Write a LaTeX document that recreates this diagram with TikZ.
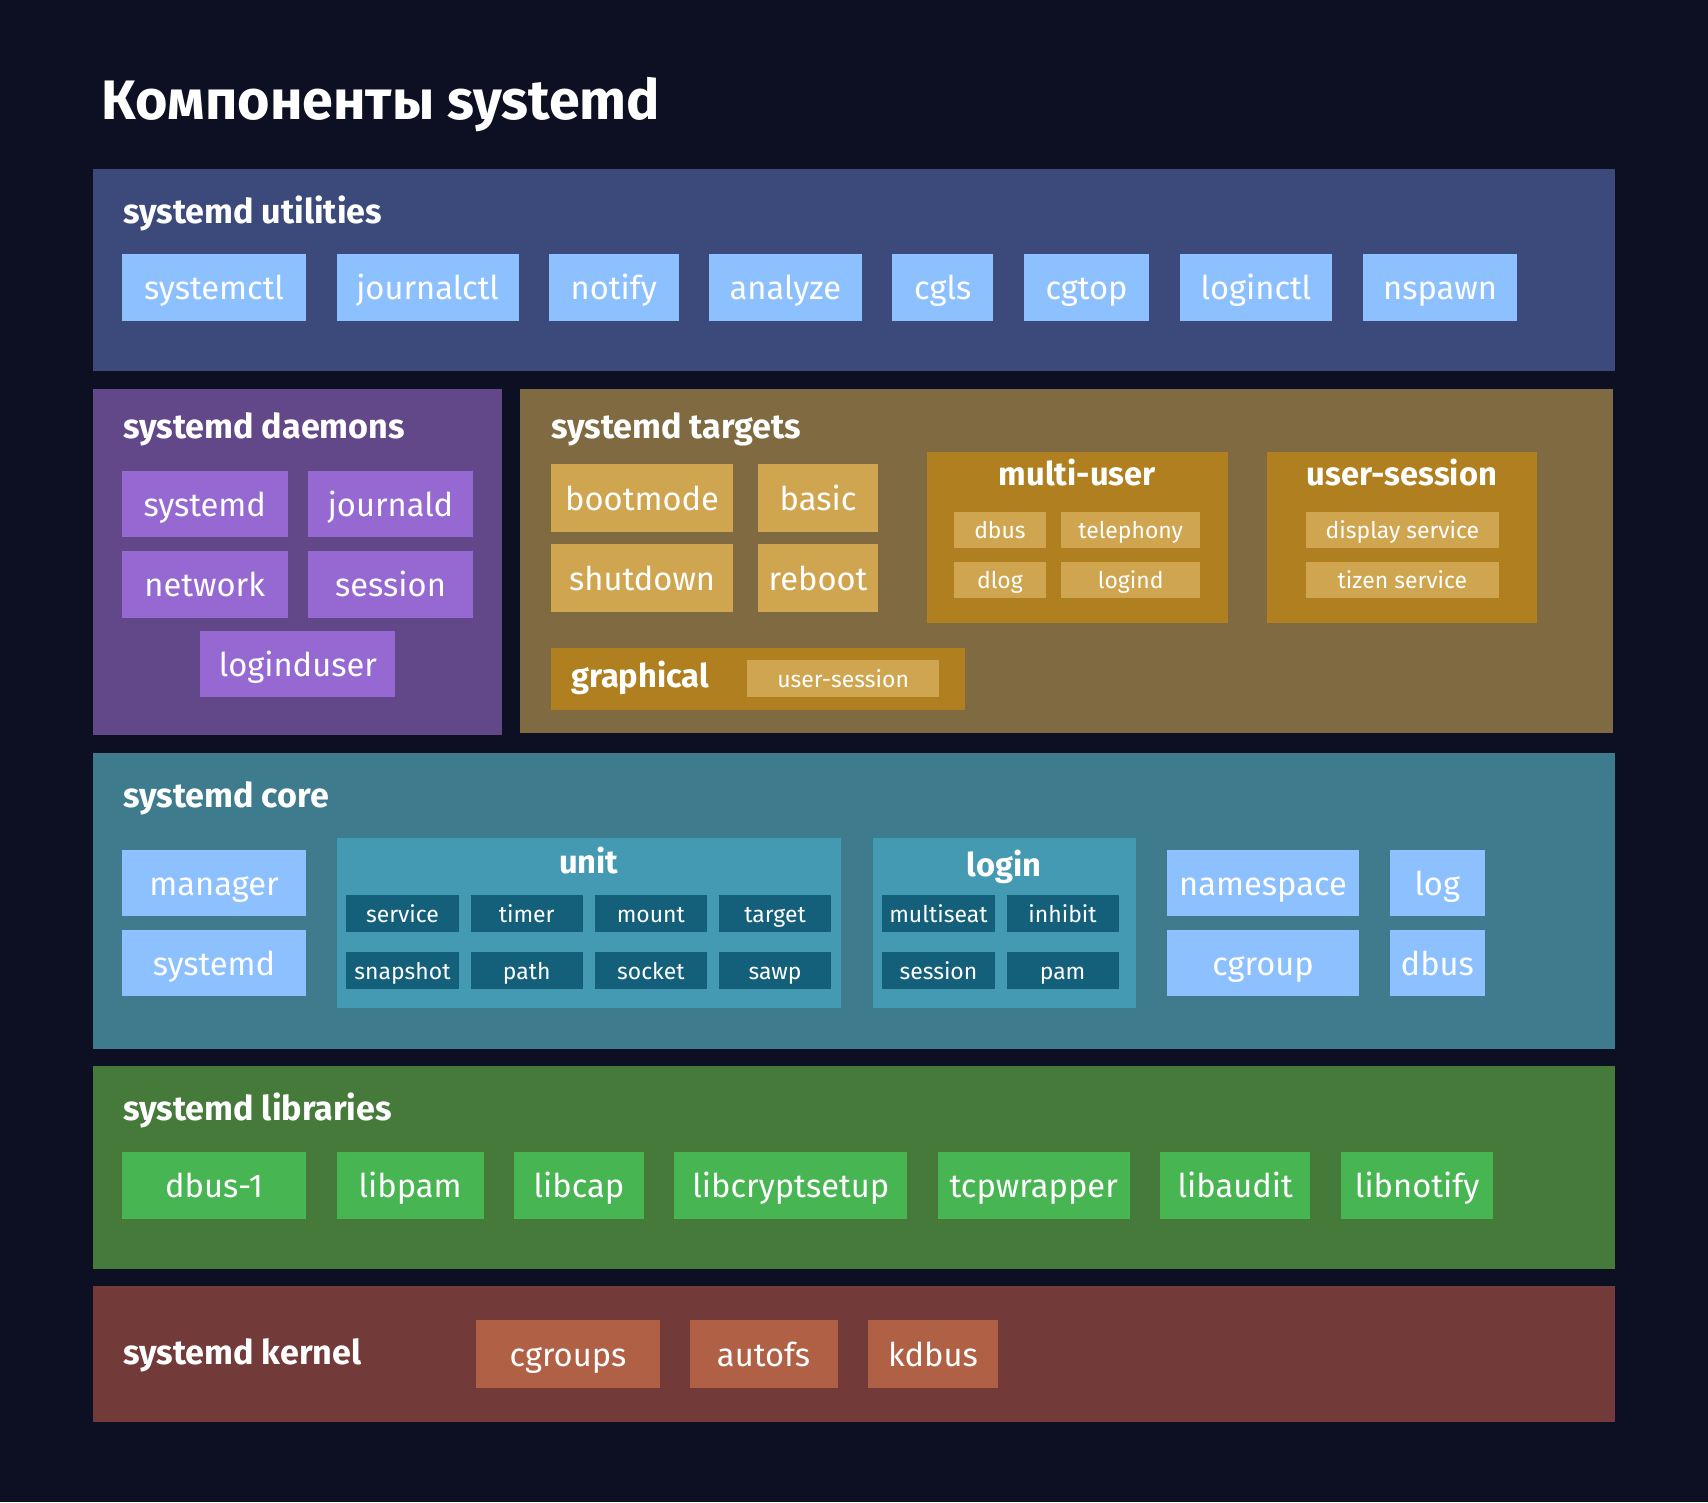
\documentclass[tikz,border=0pt]{standalone}
\usepackage{fontspec}
\setmainfont{Fira Sans}

\definecolor{pagebg}{HTML}{0D1022}
\definecolor{utilbg}{HTML}{3B4A7A}
\definecolor{blueitem}{HTML}{8CC0FF}
\definecolor{daemonbg}{HTML}{624888}
\definecolor{purpleitem}{HTML}{9568D2}
\definecolor{targetbg}{HTML}{7F6A42}
\definecolor{targetbox}{HTML}{B08020}
\definecolor{targetitem}{HTML}{D0A550}
\definecolor{corebg}{HTML}{3E7B8C}
\definecolor{corebox}{HTML}{459AB3}
\definecolor{coreitem}{HTML}{14607A}
\definecolor{libbg}{HTML}{467A3B}
\definecolor{greenitem}{HTML}{48B553}
\definecolor{kernelbg}{HTML}{733A3A}
\definecolor{kernelitem}{HTML}{B06045}

\tikzset{
	sz/.style 2 args={minimum width=#1*0.75pt, minimum height=#2*0.75pt},
	panel/.style={rectangle, inner sep=0, outer sep=0},
	item/.style={rectangle, inner sep=0, text=white, font=\fontsize{22.5}{24}\selectfont, text height=20pt, text depth=3.2pt},
	smallitem/.style={rectangle, inner sep=0, text=white, font=\fontsize{15.8}{18}\selectfont, text height=14.3pt, text depth=2.3pt},
	paneltitle/.style={anchor=base west, inner sep=0, text=white, font=\fontsize{23.5}{26}\selectfont\bfseries},
	boxtitle/.style={anchor=base, inner sep=0, text=white, font=\fontsize{22.5}{24}\selectfont\bfseries}
}

\begin{document}
\begin{tikzpicture}[x=0.75pt, y=-0.75pt]
		\fill[pagebg] (0, 0) rectangle (1568, 1379);
		\useasboundingbox (0, 0) rectangle (1568, 1379);

		\node[anchor=base west, inner sep=0, text=white, font=\fontsize{38.3}{40}\selectfont\bfseries] (title) at (93, 110) {Компоненты systemd};

		% utilities
		\node[panel, fill=utilbg, sz={1398}{186}] (utils) at (784, 248) {};
		\node[paneltitle] (utilslabel) at (113, 205) {systemd utilities};
		\node[item, fill=blueitem, sz={169}{62}] (systemctl) at (196.5, 264) {systemctl};
		\node[item, fill=blueitem, sz={167}{62}] (journalctl) at (392.5, 264) {journalctl};
		\node[item, fill=blueitem, sz={119}{62}] (notify) at (563.5, 264) {notify};
		\node[item, fill=blueitem, sz={140}{62}] (analyze) at (721, 264) {analyze};
		\node[item, fill=blueitem, sz={93}{62}] (cgls) at (865.5, 264) {cgls};
		\node[item, fill=blueitem, sz={115}{62}] (cgtop) at (997.5, 264) {cgtop};
		\node[item, fill=blueitem, sz={140}{62}] (loginctl) at (1153, 264) {loginctl};
		\node[item, fill=blueitem, sz={142}{62}] (nspawn) at (1322, 264) {nspawn};

		% daemons
		\node[panel, fill=daemonbg, sz={376}{318}] (daemons) at (273, 516) {};
		\node[paneltitle] (daemonslabel) at (113, 403) {systemd daemons};
		\node[item, fill=purpleitem, sz={152}{61}] (systemdd) at (188, 462.5) {systemd};
		\node[item, fill=purpleitem, sz={151}{61}] (journald) at (358.5, 462.5) {journald};
		\node[item, fill=purpleitem, sz={152}{61}] (network) at (188, 536.5) {network};
		\node[item, fill=purpleitem, sz={151}{61}] (sessiond) at (358.5, 536.5) {session};
		\node[item, fill=purpleitem, sz={179}{61}] (loginduser) at (273.5, 609.5) {loginduser};

		% targets
		\node[panel, fill=targetbg, sz={1004}{316}] (targets) at (979, 515) {};
		\node[paneltitle] (targetslabel) at (506, 403) {systemd targets};
		\node[item, fill=targetitem, sz={167}{62}] (bootmode) at (589.5, 457) {bootmode};
		\node[item, fill=targetitem, sz={110}{62}] (basic) at (751, 457) {basic};
		\node[item, fill=targetitem, sz={167}{62}] (shutdown) at (589.5, 530.5) {shutdown};
		\node[item, fill=targetitem, sz={110}{62}] (reboot) at (751, 530.5) {reboot};

		\node[panel, fill=targetbox, sz={276}{157}] (multiuser) at (989, 493.5) {};
		\node[boxtitle] (multiuserlabel) at (989, 446) {multi-user};
		\node[smallitem, fill=targetitem, sz={84}{33}] (dbust) at (918, 486.5) {dbus};
		\node[smallitem, fill=targetitem, sz={128}{33}] (telephony) at (1038, 486.5) {telephony};
		\node[smallitem, fill=targetitem, sz={84}{33}] (dlog) at (918, 532.5) {dlog};
		\node[smallitem, fill=targetitem, sz={128}{33}] (logind) at (1038, 532.5) {logind};

		\node[panel, fill=targetbox, sz={248}{157}] (usersession) at (1287, 493.5) {};
		\node[boxtitle] (usersessionlabel) at (1287, 446) {user-session};
		\node[smallitem, fill=targetitem, sz={177}{33}] (display) at (1287.5, 486.5) {display service};
		\node[smallitem, fill=targetitem, sz={177}{33}] (tizen) at (1287.5, 532.5) {tizen service};

		\node[panel, fill=targetbox, sz={380}{57}] (graphical) at (696, 623.5) {};
		\node[boxtitle, anchor=base west] (graphicallabel) at (524, 631.5) {graphical};
		\node[smallitem, fill=targetitem, sz={176}{34}] (graphicalsession) at (774, 623) {user-session};

		% core
		\node[panel, fill=corebg, sz={1398}{272}] (core) at (784, 827) {};
		\node[paneltitle] (corelabel) at (113, 741) {systemd core};
		\node[item, fill=blueitem, sz={169}{61}] (manager) at (196.5, 810.5) {manager};
		\node[item, fill=blueitem, sz={169}{61}] (systemdc) at (196.5, 884) {systemd};

		\node[panel, fill=corebox, sz={463}{156}] (unit) at (540.5, 847) {};
		\node[boxtitle] (unitlabel) at (540.5, 801.5) {unit};
		\node[smallitem, fill=coreitem, sz={103}{34}] (service) at (369.5, 839) {service};
		\node[smallitem, fill=coreitem, sz={103}{34}] (timer) at (483.5, 839) {timer};
		\node[smallitem, fill=coreitem, sz={103}{34}] (mount) at (597.5, 839) {mount};
		\node[smallitem, fill=coreitem, sz={103}{34}] (target) at (711.5, 839) {target};
		\node[smallitem, fill=coreitem, sz={103}{34}] (snapshot) at (369.5, 891) {snapshot};
		\node[smallitem, fill=coreitem, sz={103}{34}] (path) at (483.5, 891) {path};
		\node[smallitem, fill=coreitem, sz={103}{34}] (socket) at (597.5, 891) {socket};
		\node[smallitem, fill=coreitem, sz={103}{34}] (sawp) at (711.5, 891) {sawp};

		\node[panel, fill=corebox, sz={242}{156}] (login) at (922, 847) {};
		\node[boxtitle] (loginlabel) at (922, 805) {login};
		\node[smallitem, fill=coreitem, sz={103}{34}] (multiseat) at (861.5, 839) {multiseat};
		\node[smallitem, fill=coreitem, sz={103}{34}] (inhibit) at (975.5, 839) {inhibit};
		\node[smallitem, fill=coreitem, sz={103}{34}] (sessionl) at (861.5, 891) {session};
		\node[smallitem, fill=coreitem, sz={103}{34}] (pam) at (975.5, 891) {pam};

		\node[item, fill=blueitem, sz={177}{61}] (namespace) at (1159.5, 810.5) {namespace};
		\node[item, fill=blueitem, sz={177}{61}] (cgroup) at (1159.5, 884) {cgroup};
		\node[item, fill=blueitem, sz={87}{61}] (log) at (1319.5, 810.5) {log};
		\node[item, fill=blueitem, sz={87}{61}] (dbusc) at (1319.5, 884) {dbus};

		% libraries
		\node[panel, fill=libbg, sz={1398}{186}] (libs) at (784, 1072) {};
		\node[paneltitle] (libslabel) at (113, 1029) {systemd libraries};
		\node[item, fill=greenitem, sz={169}{61}] (dbusone) at (196.5, 1088.5) {dbus-1};
		\node[item, fill=greenitem, sz={135}{61}] (libpam) at (376.5, 1088.5) {libpam};
		\node[item, fill=greenitem, sz={119}{61}] (libcap) at (531.5, 1088.5) {libcap};
		\node[item, fill=greenitem, sz={214}{61}] (libcryptsetup) at (726, 1088.5) {libcryptsetup};
		\node[item, fill=greenitem, sz={176}{61}] (tcpwrapper) at (949, 1088.5) {tcpwrapper};
		\node[item, fill=greenitem, sz={138}{61}] (libaudit) at (1134, 1088.5) {libaudit};
		\node[item, fill=greenitem, sz={140}{61}] (libnotify) at (1301, 1088.5) {libnotify};

		% kernel
		\node[panel, fill=kernelbg, sz={1398}{124}] (kernel) at (784, 1243) {};
		\node[paneltitle] (kernellabel) at (113, 1253) {systemd kernel};
		\node[item, fill=kernelitem, sz={169}{62}] (cgroups) at (521.5, 1243) {cgroups};
		\node[item, fill=kernelitem, sz={136}{62}] (autofs) at (701, 1243) {autofs};
		\node[item, fill=kernelitem, sz={119}{62}] (kdbus) at (856.5, 1243) {kdbus};
	\end{tikzpicture}
\end{document}
